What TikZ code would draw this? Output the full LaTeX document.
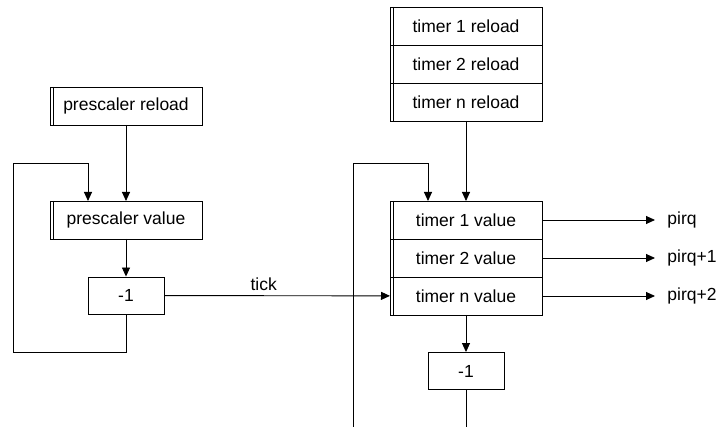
\documentclass[tikz,border=0pt]{standalone}
\usepackage{fontspec}
\setmainfont{Liberation Sans}
\usetikzlibrary{arrows.meta,positioning}

\begin{document}
\begin{tikzpicture}[
  x=1pt, y=-1pt,
  line width=0.9pt,
  font=\fontsize{17.5}{20}\selectfont,
  >={Triangle[length=9pt, width=8pt]},
  reg/.style={draw, minimum width=152pt, minimum height=38pt, inner sep=0pt,
              outer sep=0pt},
  dec/.style={draw, minimum width=76pt, minimum height=37pt, inner sep=0pt},
  wire/.style={->},
  lbl/.style={inner sep=0pt, anchor=west},
]
\useasboundingbox (0,0) rectangle (721,427);

% ---- prescaler -------------------------------------------------------------
\node[reg] (prel) at (126,106) {prescaler reload};
\node[reg] (pval) at (126,220) {prescaler value};
\node[dec] (pdec) at (126,295.5) {-1};

% ---- timers ----------------------------------------------------------------
\node[reg] (t1rel) at (466,26) {timer 1 reload};
\node[reg, below=0pt of t1rel] (t2rel) {timer 2 reload};
\node[reg, below=0pt of t2rel] (tnrel) {timer n reload};

\node[reg] (t1val) at (466,220) {timer 1 value};
\node[reg, below=0pt of t1val] (t2val) {timer 2 value};
\node[reg, below=0pt of t2val] (tnval) {timer n value};
\node[dec] (tdec) at (466,371) {-1};

% double left edge of the registers
\foreach \n in {prel,pval,t1rel,t2rel,tnrel,t1val,t2val,tnval}
  \draw ([xshift=3pt]\n.north west) -- ([xshift=3pt]\n.south west);

% ---- prescaler wiring ------------------------------------------------------
\coordinate (ploop) at (13,352);
\draw[wire] (prel) -- (pval);
\draw[wire] (pval) -- (pdec);
\draw[wire] (pdec.south) |- (ploop) |- (88,163) -- (88,201);
\draw[wire] (pdec) -- node[pos=0.44, above=1pt] {tick} (tnval);

% ---- timer wiring ----------------------------------------------------------
\coordinate (tout) at (466,427);
\coordinate (tin) at (353,427);
\draw[wire] (tnrel) -- (t1val);
\draw[wire] (tnval) -- (tdec);
\draw (tdec) -- (tout);
\draw[wire] (tin) |- (428,163) -- (428,201);

% ---- interrupt outputs -----------------------------------------------------
\foreach \r/\t in {t1val/pirq, t2val/pirq+1, tnval/pirq+2}{
  \coordinate (\r-o) at (655,0 |- \r.east);
  \draw[wire] (\r.east) -- (\r-o);
  \node[lbl] (\r-irq) at ([xshift=12pt]\r-o) {\t};
}
\end{tikzpicture}
\end{document}
